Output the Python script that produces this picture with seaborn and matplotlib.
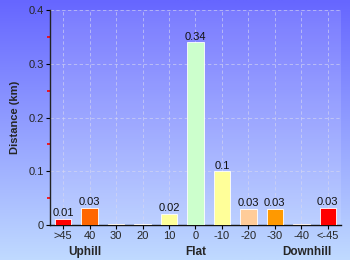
import numpy as np
import pandas as pd
import matplotlib
matplotlib.use("Agg")
import matplotlib.pyplot as plt
import seaborn as sns
from matplotlib.ticker import MultipleLocator

categories = [">45", "40", "30", "20", "10", "0", "-10", "-20", "-30", "-40", "<-45"]
distances = [0.011, 0.032, 0.002, 0.001, 0.021, 0.34, 0.1, 0.03, 0.03, 0.002, 0.032]
bar_labels = ["0.01", "0.03", "", "", "0.02", "0.34", "0.1", "0.03", "0.03", "", "0.03"]
bar_colors = ["#ff0000", "#ff6600", "#ff9900", "#ffcc99", "#ffff99", "#ccffcc",
              "#ffff99", "#ffcc99", "#ff9900", "#ff6600", "#ff0000"]
group_labels = ["Uphill", "Flat", "Downhill"]

df = pd.DataFrame({"grade": categories, "distance": distances})

sns.set_style("white")
plt.rcParams['font.family'] = ['Liberation Sans', 'DejaVu Sans']

fig = plt.figure(figsize=(3.5, 2.6), dpi=100)

# background gradient
bg = fig.add_axes([0, 0, 1, 1], zorder=-10)
grad = np.linspace(0, 1, 256).reshape(-1, 1)
top = np.array([102, 102, 255]) / 255
bot = np.array([192, 218, 255]) / 255
img = top[None, None, :] * (1 - grad[:, :, None]) + bot[None, None, :] * grad[:, :, None]
bg.imshow(img, aspect="auto", extent=[0, 1, 0, 1])
bg.axis("off")

ax = fig.add_axes([50/350, 35/260, 291/350, 215/260])
ax.set_facecolor((1, 1, 1, 0.12))

sns.barplot(data=df, x="grade", y="distance", hue="grade", palette=bar_colors,
            legend=False, width=0.62, ax=ax, saturation=1, edgecolor="#ffffff",
            linewidth=0.6, zorder=3)

for cont, lab in zip(ax.containers, bar_labels):
    ax.bar_label(cont, labels=[lab], padding=0.5, fontsize=8, color="#111111")

ax.set_ylim(0, 0.4)
ax.set_xlim(-0.5, len(categories) - 0.5)
ax.yaxis.set_major_locator(MultipleLocator(0.1))
ax.yaxis.set_minor_locator(MultipleLocator(0.05))
ax.set_yticks([0, 0.1, 0.2, 0.3, 0.4])
ax.set_yticklabels(["0", "0.1", "0.2", "0.3", "0.4"])
ax.tick_params(axis="y", which="major", left=True, length=3, width=0.8, color="black",
               labelsize=8, pad=1.5)
ax.tick_params(axis="y", which="minor", left=True, length=2.5, width=1.2, color="red")
ax.tick_params(axis="x", bottom=True, length=3, width=0.8, color="black",
               labelsize=8, pad=1)

ax.grid(True, axis="both", linestyle=(0, (4, 3)), color="#d8d8f0", linewidth=0.6, alpha=0.7, zorder=0)
ax.set_axisbelow(True)

for s in ["top", "right"]:
    ax.spines[s].set_visible(False)
ax.spines["left"].set_color("#222222")
ax.spines["bottom"].set_color("#111111")
ax.spines["left"].set_linewidth(1.0)
ax.spines["bottom"].set_linewidth(1.0)

ax.set_xlabel("")
ax.set_ylabel("Distance (km)", fontsize=8, fontweight="bold", labelpad=6)

# group labels under axis
for xpos, txt in zip([0.8, 5, 9.2], group_labels):
    ax.text(xpos, -0.05, txt, ha="center", va="center", fontsize=8.5, fontweight="bold",
            transform=ax.transData, clip_on=False)

fig.savefig("out.png", dpi=100)
